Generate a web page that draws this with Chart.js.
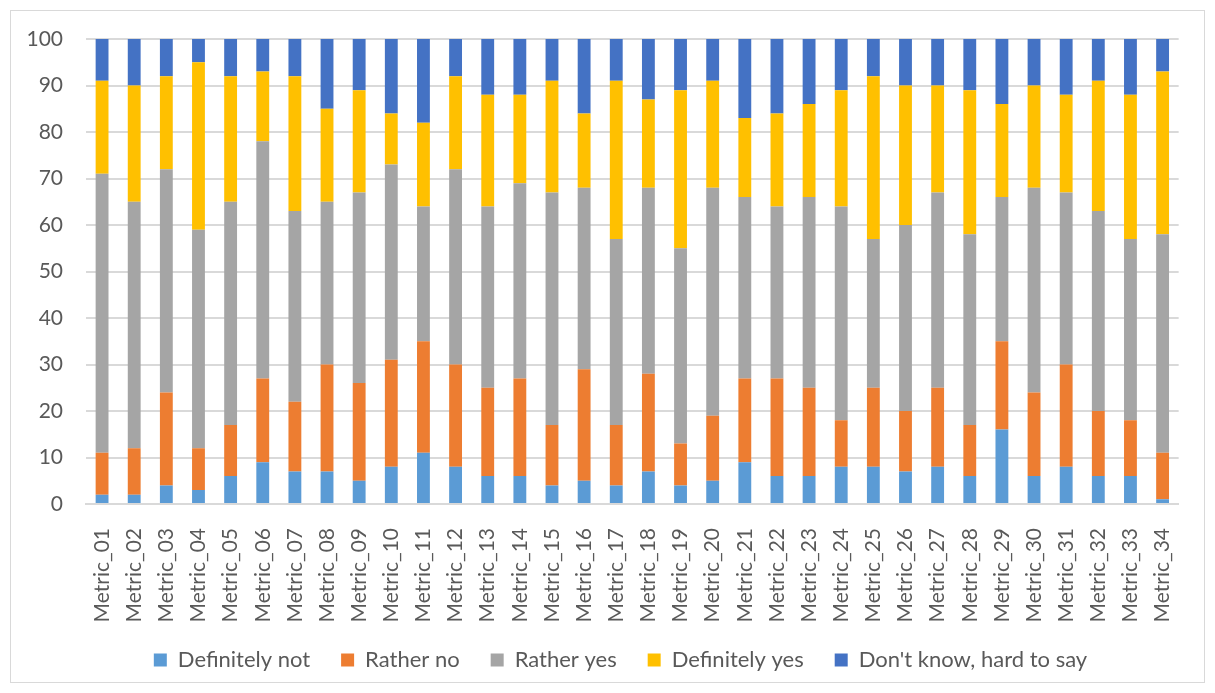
<!DOCTYPE html>
<html>
<head>
<meta charset="utf-8">
<script src="https://cdn.jsdelivr.net/npm/chart.js@4/dist/chart.umd.min.js"></script>
<style>
    html, body { margin: 0; padding: 0; background: #fff; }
    #frame {
        position: absolute; left: 10px; top: 10px;
        width: 1193px; height: 671px;
        border: 1px solid #d9d9d9;
    }
</style>
</head>
<body>
<div id="frame"><canvas id="chart" width="1193" height="671"></canvas></div>
<script>
const labels = ["Metric_01", "Metric_02", "Metric_03", "Metric_04", "Metric_05", "Metric_06", "Metric_07", "Metric_08", "Metric_09", "Metric_10",
    "Metric_11", "Metric_12", "Metric_13", "Metric_14", "Metric_15", "Metric_16", "Metric_17", "Metric_18", "Metric_19", "Metric_20",
    "Metric_21", "Metric_22", "Metric_23", "Metric_24", "Metric_25", "Metric_26", "Metric_27", "Metric_28", "Metric_29", "Metric_30",
    "Metric_31", "Metric_32", "Metric_33", "Metric_34"];

const definitelyNot = [2, 2, 4, 3, 6, 9, 7, 7, 5, 8, 11, 8, 6, 6, 4, 5, 4, 7, 4, 5, 9, 6, 6, 8, 8, 7, 8, 6, 16, 6, 8, 6, 6, 1];
const ratherNo = [9, 10, 20, 9, 11, 18, 15, 23, 21, 23, 24, 22, 19, 21, 13, 24, 13, 21, 9, 14, 18, 21, 19, 10, 17, 13, 17, 11, 19, 18, 22, 14, 12, 10];
const ratherYes = [60, 53, 48, 47, 48, 51, 41, 35, 41, 42, 29, 42, 39, 42, 50, 39, 40, 40, 42, 49, 39, 37, 41, 46, 32, 40, 42, 41, 31, 44, 37, 43, 39, 47];
const definitelyYes = [20, 25, 20, 36, 27, 15, 29, 20, 22, 11, 18, 20, 24, 19, 24, 16, 34, 19, 34, 23, 17, 20, 20, 25, 35, 30, 23, 31, 20, 22, 21, 28, 31, 35];
const dontKnow = [9, 10, 8, 5, 8, 7, 8, 15, 11, 16, 18, 8, 12, 12, 9, 16, 9, 13, 11, 9, 17, 16, 14, 11, 8, 10, 10, 11, 14, 10, 12, 9, 12, 7];

const yTicks = [0, 10, 20, 30, 40, 50, 60, 70, 80, 90, 100];

const textColor = '#595959';
const font = 'Lato, "Liberation Sans", sans-serif';

function series(label, data, color) {
    return {
        label: label,
        data: data,
        backgroundColor: color,
        borderWidth: 0,
        barPercentage: 0.8,
        categoryPercentage: 0.5
    };
}

// move the legend a bit right and up, like the original
const legendShift = {
    id: 'legendShift',
    afterLayout: function (chart) {
        chart.legend.left += 20;
        chart.legend.right += 20;
        chart.legend.top -= 10;
        chart.legend.bottom -= 10;
    }
};

new Chart(document.getElementById('chart'), {
    type: 'bar',
    data: {
        labels: labels,
        datasets: [
            series('Definitely not', definitelyNot, '#5B9BD5'),
            series('Rather no', ratherNo, '#ED7D31'),
            series('Rather yes', ratherYes, '#A5A5A5'),
            series('Definitely yes', definitelyYes, '#FFC000'),
            series("Don't know, hard to say", dontKnow, '#4472C4')
        ]
    },
    plugins: [legendShift],
    options: {
        responsive: false,
        animation: false,
        layout: { padding: { left: 0, right: 14, top: 28, bottom: -9 } },
        plugins: {
            legend: {
                position: 'bottom',
                labels: {
                    color: textColor,
                    font: { family: font, size: 22 },
                    boxWidth: 13,
                    boxHeight: 13,
                    padding: 31
                }
            },
            tooltip: { enabled: false }
        },
        scales: {
            x: {
                stacked: true,
                grid: { display: false },
                border: { color: '#d9d9d9', width: 2 },
                ticks: {
                    color: textColor,
                    font: { family: font, size: 21 },
                    maxRotation: 90,
                    minRotation: 90,
                    autoSkip: false,
                    padding: 16
                },
                afterFit: function (scale) { scale.height = 124; }
            },
            y: {
                stacked: true,
                min: 0,
                max: 100,
                afterBuildTicks: function (scale) {
                    scale.ticks = yTicks.map(function (v) { return { value: v }; });
                },
                grid: { color: '#d9d9d9', lineWidth: 2, drawTicks: false },
                border: { display: false },
                ticks: {
                    color: textColor,
                    font: { family: font, size: 21 },
                    padding: 23
                },
                afterFit: function (scale) {
                    scale.width = 75;
                    scale.paddingTop = 0;
                    scale.paddingBottom = 0;
                }
            }
        }
    }
});
</script>
</body>
</html>
